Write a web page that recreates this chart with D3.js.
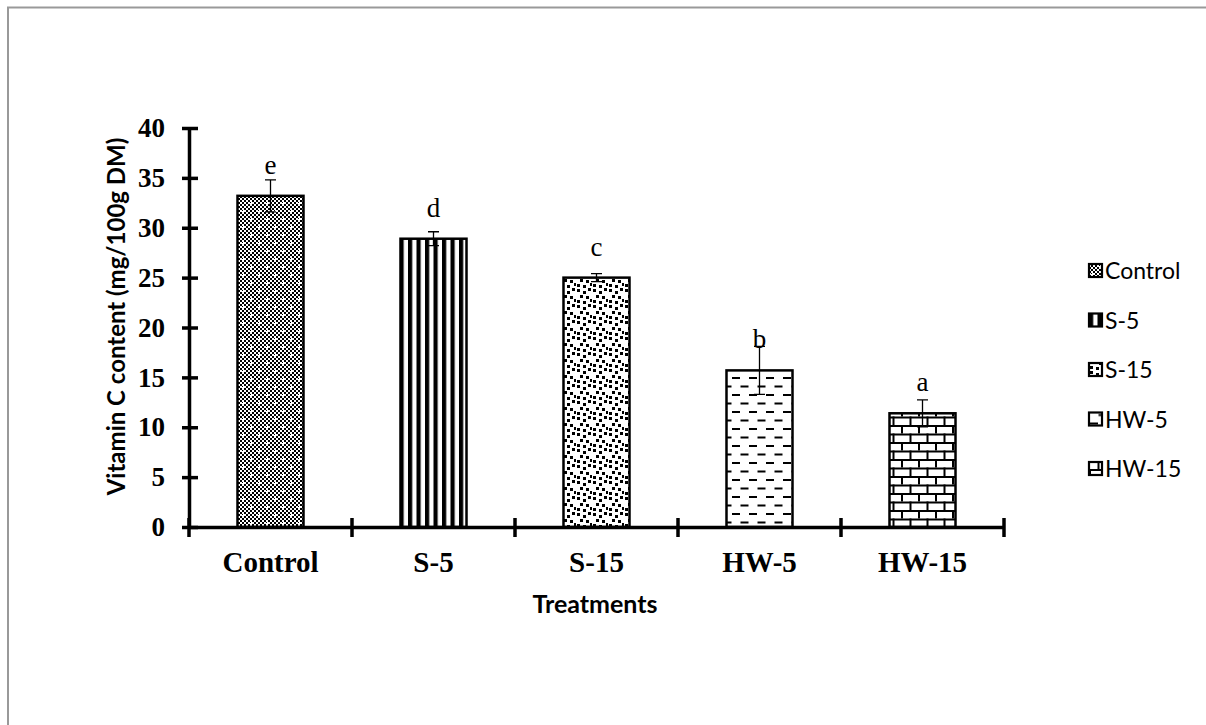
<!DOCTYPE html>
<html>
<head>
<meta charset="utf-8">
<script src="https://cdn.jsdelivr.net/npm/d3@7"></script>
<style>
  body { margin: 0; background: #fff; }
  svg { display: block; }
</style>
</head>
<body>
<div id="chart"></div>
<script>
// data
const treatments = ["Control", "S-5", "S-15", "HW-5", "HW-15"];
const vitC = [33.2, 28.9, 25.0, 15.7, 11.4];
const errs = [1.6, 0.7, 0.4, 2.4, 1.35];
const letters = ["e", "d", "c", "b", "a"];
const yTicks = [0, 5, 10, 15, 20, 25, 30, 35, 40];

const width = 1206,
      height = 725,
      margin = ({top: 128, right: 202, bottom: 198, left: 189});

const serif = "Liberation Serif, Times New Roman, serif",
      sans = "Lato, Open Sans, sans-serif";

let svg = d3.select("#chart")
    .append("svg")
    .attr("width", width)
    .attr("height", height);

// outer frame (only top + left visible in the original)
svg.append("path")
    .attr("d", `M8,${height} L8,7.5 L${width},7.5`)
    .attr("fill", "none")
    .attr("stroke", "#999")
    .attr("stroke-width", 2);

// ---- fill patterns ----
let defs = svg.append("defs");

// Control: fine checker with white dots
let p0 = defs.append("pattern").attr("id", "pat0")
    .attr("patternUnits", "userSpaceOnUse").attr("width", 16).attr("height", 16);
p0.append("rect").attr("width", 16).attr("height", 16).attr("fill", "#fff");
for (let i = 0; i < 8; i++) {
    for (let j = 0; j < 8; j++) {
        if ((i + j) % 2 === 0) {
            p0.append("rect").attr("x", i * 2).attr("y", j * 2)
                .attr("width", 2).attr("height", 2).attr("fill", "#000");
        }
    }
}
[[3, 3], [11, 11]].forEach(c => {
    p0.append("rect").attr("x", c[0] - 1).attr("y", c[1]).attr("width", 3).attr("height", 1).attr("fill", "#fff");
    p0.append("rect").attr("x", c[0]).attr("y", c[1] - 1).attr("width", 1).attr("height", 3).attr("fill", "#fff");
});

// S-5: vertical stripes
let p1 = defs.append("pattern").attr("id", "pat1")
    .attr("patternUnits", "userSpaceOnUse").attr("width", 8.5).attr("height", 8);
p1.append("rect").attr("width", 8.5).attr("height", 8).attr("fill", "#fff");
p1.append("rect").attr("width", 4.2).attr("height", 8).attr("fill", "#000");

// S-15: scattered small squares
let p2 = defs.append("pattern").attr("id", "pat2")
    .attr("patternUnits", "userSpaceOnUse").attr("width", 16).attr("height", 16);
p2.append("rect").attr("width", 16).attr("height", 16).attr("fill", "#fff");
[[1, 1], [7, 3], [12, 0], [4, 7], [10, 8], [14, 11], [1, 12], [7, 13]].forEach(c => {
    p2.append("rect").attr("x", c[0]).attr("y", c[1])
        .attr("width", 3).attr("height", 3).attr("fill", "#000");
});

// HW-5: staggered horizontal dashes
let p3 = defs.append("pattern").attr("id", "pat3")
    .attr("patternUnits", "userSpaceOnUse").attr("width", 17).attr("height", 17);
p3.append("rect").attr("width", 17).attr("height", 17).attr("fill", "#fff");
p3.append("rect").attr("x", 1).attr("y", 3).attr("width", 8).attr("height", 2).attr("fill", "#000");
p3.append("rect").attr("x", 9.5).attr("y", 11.5).attr("width", 8).attr("height", 2).attr("fill", "#000");
p3.append("rect").attr("x", -7.5).attr("y", 11.5).attr("width", 8).attr("height", 2).attr("fill", "#000");

// HW-15: bricks
let p4 = defs.append("pattern").attr("id", "pat4")
    .attr("patternUnits", "userSpaceOnUse").attr("width", 17).attr("height", 17);
p4.append("rect").attr("width", 17).attr("height", 17).attr("fill", "#fff");
p4.append("rect").attr("x", 0).attr("y", 0).attr("width", 17).attr("height", 2).attr("fill", "#000");
p4.append("rect").attr("x", 0).attr("y", 8.5).attr("width", 17).attr("height", 2).attr("fill", "#000");
p4.append("rect").attr("x", 0).attr("y", 0).attr("width", 2).attr("height", 8.5).attr("fill", "#000");
p4.append("rect").attr("x", 8.5).attr("y", 8.5).attr("width", 2).attr("height", 8.5).attr("fill", "#000");

const fills = treatments.map((d, i) => `url(#pat${i})`);

// ---- scales ----
let x = d3.scaleBand()
    .domain(treatments)
    .range([margin.left, width - margin.right]);

let y = d3.scaleLinear()
    .domain([0, 40])
    .range([height - margin.bottom, margin.top]);

const barW = x.bandwidth() * 0.405;

let data = treatments.map((t, i) => ({t: t, v: vitC[i], e: errs[i], l: letters[i], f: fills[i]}));

// ---- bars ----
let bar = svg.selectAll(".bar")
    .data(data)
    .join("g")
    .attr("class", "bar");

bar.append("rect")
    .attr("x", d => x(d.t) + x.bandwidth() / 2 - barW / 2)
    .attr("width", barW)
    .attr("y", d => y(d.v))
    .attr("height", d => y(0) - y(d.v))
    .attr("fill", d => d.f)
    .attr("stroke", "#000")
    .attr("stroke-width", 2.5);

// error bars
bar.append("path")
    .attr("d", d => {
        let cx = x(d.t) + x.bandwidth() / 2,
            y1 = y(d.v + d.e), y2 = y(d.v - d.e);
        return `M${cx - 5.5},${y1} H${cx + 5.5} M${cx},${y1} V${y2} M${cx - 5.5},${y2} H${cx + 5.5}`;
    })
    .attr("fill", "none")
    .attr("stroke", "#000")
    .attr("stroke-width", 1.3);

// significance letters
bar.append("text")
    .attr("x", d => x(d.t) + x.bandwidth() / 2)
    .attr("y", d => y(d.v) - 22)
    .attr("text-anchor", "middle")
    .attr("font-family", serif)
    .attr("font-size", 27)
    .text(d => d.l);

// ---- axes ----
const yAxis = g => g
    .attr("transform", `translate(${margin.left},0)`)
    .call(d3.axisLeft(y).tickValues(yTicks).tickSize(0).tickPadding(24))
    .call(g => g.select(".domain").attr("stroke-width", 3.5))
    .call(g => g.selectAll(".tick line").remove())
    .call(g => g.selectAll(".tick").append("line")
        .attr("x1", -7).attr("x2", 9).attr("stroke", "#000").attr("stroke-width", 3.5))
    .call(g => g.selectAll("text")
        .attr("font-family", serif)
        .attr("font-weight", "bold")
        .attr("font-size", 27)
        .attr("fill", "#000"));

svg.append("g").call(yAxis);

const xAxis = g => g
    .attr("transform", `translate(0,${y(0)})`)
    .call(d3.axisBottom(x).tickSize(0).tickPadding(24).tickSizeOuter(0))
    .call(g => g.select(".domain").attr("stroke-width", 3.5))
    .call(g => g.selectAll("text")
        .attr("font-family", serif)
        .attr("font-weight", "bold")
        .attr("font-size", 29)
        .attr("fill", "#000"));

svg.append("g").call(xAxis);

// x ticks at category boundaries
const bounds = treatments.map(d => x(d)).concat([x.range()[1]]);
svg.append("g")
    .selectAll("line")
    .data(bounds)
    .join("line")
    .attr("x1", d => d)
    .attr("x2", d => d)
    .attr("y1", y(0) - 9)
    .attr("y2", y(0) + 10)
    .attr("stroke", "#000")
    .attr("stroke-width", 3.5);

// axis titles
svg.append("text")
    .attr("transform", `translate(125,${(y(0) + y(40)) / 2 - 11}) rotate(-90)`)
    .attr("text-anchor", "middle")
    .attr("font-family", sans)
    .attr("font-weight", "bold")
    .attr("font-size", 24)
    .text("Vitamin C content (mg/100g DM)");

svg.append("text")
    .attr("x", 595)
    .attr("y", 613)
    .attr("text-anchor", "middle")
    .attr("font-family", sans)
    .attr("font-weight", "bold")
    .attr("font-size", 25)
    .text("Treatments");

// ---- legend ----
let legend = svg.append("g")
    .selectAll("g")
    .data(data)
    .join("g")
    .attr("transform", (d, i) => `translate(1089,${271 + i * 49.5})`);

legend.append("rect")
    .attr("x", 0)
    .attr("y", -7)
    .attr("width", 13)
    .attr("height", 13)
    .attr("fill", d => d.f)
    .attr("stroke", "#000")
    .attr("stroke-width", 2.2);

legend.append("text")
    .attr("x", 16)
    .attr("y", 8)
    .attr("font-family", sans)
    .attr("font-size", 23)
    .text(d => d.t);
</script>
</body>
</html>
